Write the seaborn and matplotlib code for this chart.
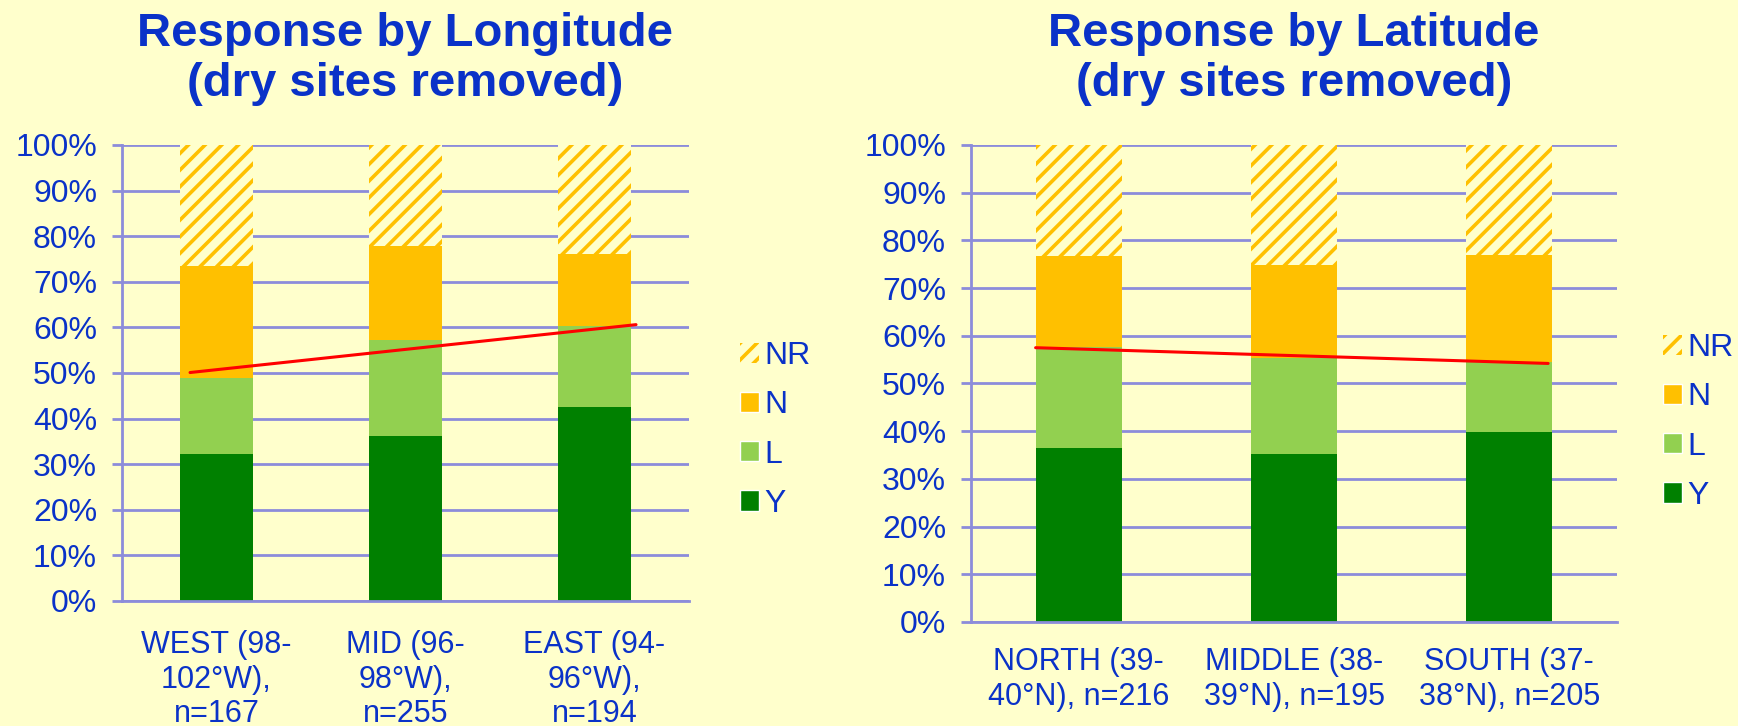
import numpy as np
import seaborn as sns
import matplotlib.pyplot as plt
from matplotlib.patches import Patch

# ---- values (percent of sites) ----
long_cats = ['WEST (98-\n102°W),\nn=167', 'MID (96-\n98°W),\nn=255', 'EAST (94-\n96°W),\nn=194']
long_Y = [32.2, 36.2, 42.6]
long_L = [16.8, 21.0, 17.6]
long_N = [24.5, 20.7, 16.0]
long_trend = [50.1, 60.6]

lat_cats = ['NORTH (39-\n40°N), n=216', 'MIDDLE (38-\n39°N), n=195', 'SOUTH (37-\n38°N), n=205']
lat_Y = [36.5, 35.3, 39.9]
lat_L = [21.2, 20.0, 14.7]
lat_N = [19.1, 19.5, 22.4]
lat_trend = [57.5, 54.2]

BG = '#FFFFCC'
GRID = '#8C8CDA'
BLUE = '#0A32C8'
C_Y, C_L, C_N = '#008000', '#92D050', '#FFC000'

sns.set_style('white')
plt.rcParams['font.family'] = ['Liberation Sans', 'DejaVu Sans']
plt.rcParams['hatch.linewidth'] = 2.6

fig = plt.figure(figsize=(17.38, 7.26), dpi=100, facecolor=BG)
ax1 = fig.add_axes([0.0702, 0.1722, 0.3262, 0.6281])
ax2 = fig.add_axes([0.5587, 0.1433, 0.3717, 0.6570])


def draw(ax, cats, Y, L, N, trend, trend_x, width, xpad):
    ax.set_facecolor(BG)
    Y = np.array(Y); L = np.array(L); N = np.array(N)
    layers = [
        (np.full(len(cats), 100.0), dict(color=BG, hatch='//', edgecolor=C_N, linewidth=0)),
        (Y + L + N, dict(color=C_N, linewidth=0)),
        (Y + L, dict(color=C_L, linewidth=0)),
        (Y, dict(color=C_Y, linewidth=0)),
    ]
    for vals, kw in layers:
        sns.barplot(x=cats, y=vals, width=width, errorbar=None, saturation=1, ax=ax, zorder=2, **kw)
    ax.plot(trend_x, trend, color='#FF0000', lw=2.2, zorder=5)

    ax.set_xlim(-0.5, 2.5)
    ax.set_ylim(0, 100)
    ax.set_yticks(range(0, 101, 10))
    ax.set_yticklabels([f'{v}%' for v in range(0, 101, 10)])
    ax.set_axisbelow(True)
    ax.yaxis.grid(True, color=GRID, lw=2)
    ax.xaxis.grid(False)
    for s in ['top', 'right']:
        ax.spines[s].set_visible(False)
    for s in ['left', 'bottom']:
        ax.spines[s].set_color(GRID)
        ax.spines[s].set_linewidth(2)
    ax.set_xticks([-0.5, 0.5, 1.5, 2.5], minor=True)
    ax.tick_params(axis='x', which='major', length=0, labelsize=22, labelcolor=BLUE, pad=xpad)
    ax.tick_params(axis='x', which='minor', length=7, width=2, color=GRID)
    ax.tick_params(axis='y', length=7, width=2, color=GRID, labelsize=23, labelcolor=BLUE, pad=11,
                   left=True)
    ax.set_xlabel('')
    ax.set_ylabel('')


draw(ax1, long_cats, long_Y, long_L, long_N, long_trend, [-0.14, 2.22], 0.39, 21)
draw(ax2, lat_cats, lat_Y, lat_L, lat_N, lat_trend, [-0.2, 2.18], 0.40, 18)

fig.text(0.2333, 0.9187, 'Response by Longitude\n(dry sites removed)', ha='center', va='center',
         fontsize=34, fontweight='bold', color=BLUE, linespacing=1.15)
fig.text(0.7445, 0.9187, 'Response by Latitude\n(dry sites removed)', ha='center', va='center',
         fontsize=34, fontweight='bold', color=BLUE, linespacing=1.15)

handles = [Patch(facecolor=BG, edgecolor=C_N, hatch='//', linewidth=0),
           Patch(facecolor=C_N), Patch(facecolor=C_L), Patch(facecolor=C_Y)]
labels = ['NR', 'N', 'L', 'Y']
for x, y in [(0.4258, 0.4077), (0.9568, 0.4187)]:
    fig.legend(handles, labels, loc='center left', bbox_to_anchor=(x, y), frameon=False,
               fontsize=23, labelcolor=BLUE, handlelength=0.6, handleheight=0.6,
               handletextpad=0.15, labelspacing=0.6, borderpad=0, borderaxespad=0)

plt.savefig('out.png', dpi=100, facecolor=BG)
